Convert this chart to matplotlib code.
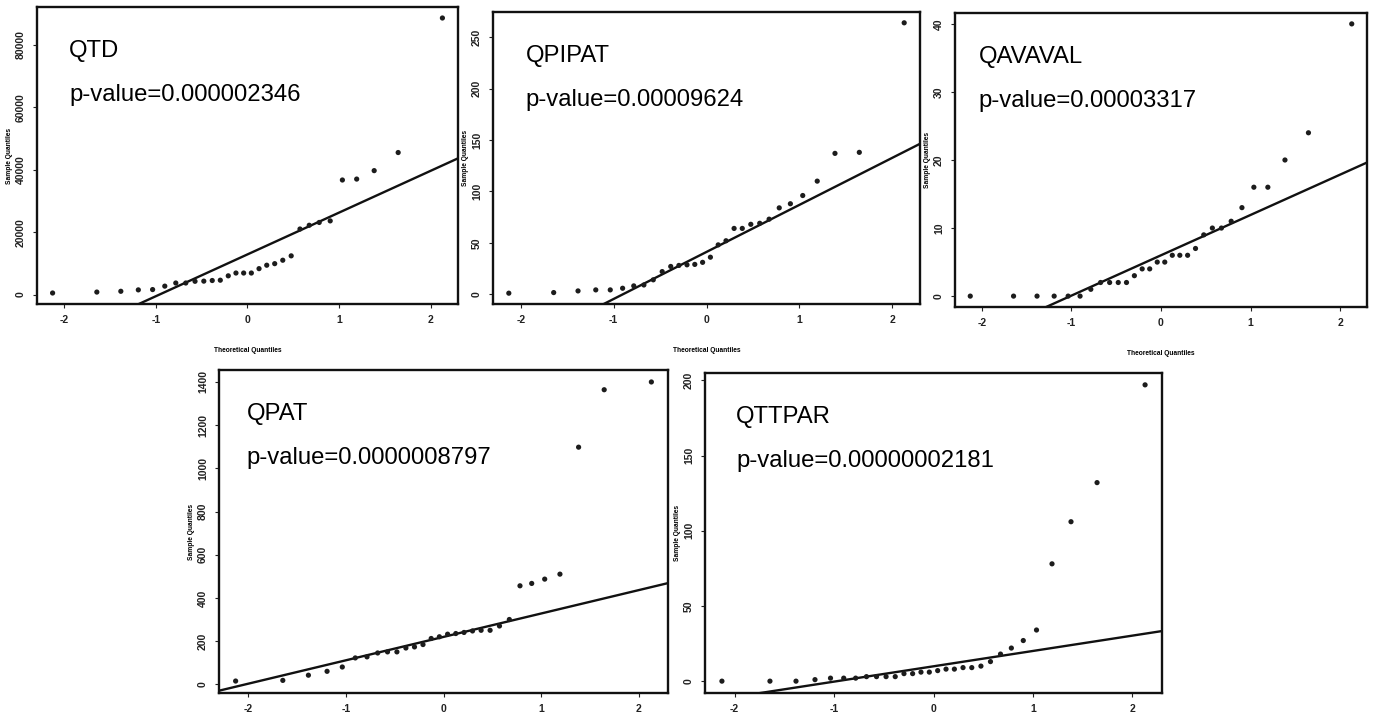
import numpy as np
import matplotlib.pyplot as plt

plt.rcParams['font.family'] = ['Liberation Sans', 'DejaVu Sans']

# theoretical normal quantiles for n = 30
theoretical_q = [-2.128, -1.645, -1.383, -1.192, -1.036, -0.903, -0.783, -0.674, -0.573, -0.477,
                 -0.385, -0.297, -0.210, -0.126, -0.042, 0.042, 0.126, 0.210, 0.297, 0.385,
                 0.477, 0.573, 0.674, 0.783, 0.903, 1.036, 1.192, 1.383, 1.645, 2.128]

# sample quantiles (sorted values) per variable
qtd = [500, 800, 1050, 1500, 1600, 2700, 3700, 3700, 4250, 4300, 4500, 4600, 6000, 6900, 6900,
       6900, 8300, 9400, 9900, 11000, 12400, 21000, 22200, 23100, 23600, 36700, 37000, 39700,
       45500, 88600]
qpipat = [1, 1.6, 3.2, 4.2, 4.2, 5.8, 8.1, 9, 14, 22, 27, 28, 28.6, 29, 31, 36, 48, 52, 64, 64,
          68, 69, 73, 84, 88, 96, 110, 137, 138, 264]
qavaval = [0, 0, 0, 0, 0, 0, 1, 2, 2, 2, 2, 3, 4, 4, 5, 5, 6, 6, 6, 7, 9, 10, 10, 11, 13, 16,
           16, 20, 24, 40]
qpat = [15, 18, 42, 60, 80, 122, 127, 145, 150, 150, 168, 173, 184, 212, 220, 232, 235, 240,
        247, 250, 250, 270, 300, 456, 467, 487, 510, 1098, 1364, 1400]
qttpar = [0, 0, 0, 1, 2, 2, 2, 3, 3, 3, 3, 5, 5, 6, 6, 7, 8, 8, 9, 9, 10, 13, 18, 22, 27, 34,
          78, 106, 132, 197]

names = ["QTD", "QPIPAT", "QAVAVAL", "QPAT", "QTTPAR"]
pvalues = ["0.000002346", "0.00009624", "0.00003317", "0.0000008797", "0.00000002181"]
x_ticks = [-2, -1, 0, 1, 2]
y_ticks = [
    [0, 20000, 40000, 60000, 80000],
    [0, 50, 100, 150, 200, 250],
    [0, 10, 20, 30, 40],
    [0, 200, 400, 600, 800, 1000, 1200, 1400],
    [0, 50, 100, 150, 200],
]
samples = [qtd, qpipat, qavaval, qpat, qttpar]

W, H = 1373, 717
fig = plt.figure(figsize=(W / 100, H / 100), dpi=100)

# panel boxes in pixels: left, top, right, bottom
boxes = [(37, 7, 458, 304), (493, 12, 920, 304), (955, 13, 1367, 307),
         (219, 370, 668, 693), (705, 373, 1162, 693)]
text_x = [0.076, 0.077, 0.058, 0.062, 0.068]

for i, (l, t, r, b) in enumerate(boxes):
    ax = fig.add_axes([l / W, 1 - b / H, (r - l) / W, (b - t) / H])
    vals = samples[i]
    ax.scatter(theoretical_q, vals, s=14, color='#1c1c1c', edgecolors='none', zorder=3)
    ax.margins(0.04)

    # R style qqline through 1st and 3rd quartiles
    q1, q3 = np.percentile(vals, [25, 75])
    z = 0.6745
    slope = (q3 - q1) / (2 * z)
    inter = q1 + slope * z
    ax.axline((0, inter), slope=slope, color='#111111', lw=1.7, zorder=2)

    ax.set_xticks(x_ticks)
    ax.set_xticklabels([str(v) for v in x_ticks], fontsize=7.5, fontweight='bold')
    ax.set_yticks(y_ticks[i])
    ax.set_yticklabels([str(v) for v in y_ticks[i]], fontsize=7.5, fontweight='bold',
                       rotation=90, va='center')
    ax.tick_params(direction='out', length=3, width=0.8, pad=5, colors='#222222')
    for s in ax.spines.values():
        s.set_linewidth(1.7)
        s.set_color('#111111')

    ax.set_ylabel("Sample Quantiles", fontsize=4.8, fontweight='bold', labelpad=2)
    if i < 3:
        ax.set_xlabel("Theoretical Quantiles", fontsize=4.8, fontweight='bold', labelpad=16)

    ax.annotate(names[i], xy=(text_x[i], 1), xycoords='axes fraction',
                xytext=(0, -50), textcoords='offset pixels', fontsize=17.2, va='baseline')
    ax.annotate("p-value=" + pvalues[i], xy=(text_x[i], 1), xycoords='axes fraction',
                xytext=(0, -94), textcoords='offset pixels', fontsize=17.2, va='baseline')

fig.savefig("out.png", dpi=100)
